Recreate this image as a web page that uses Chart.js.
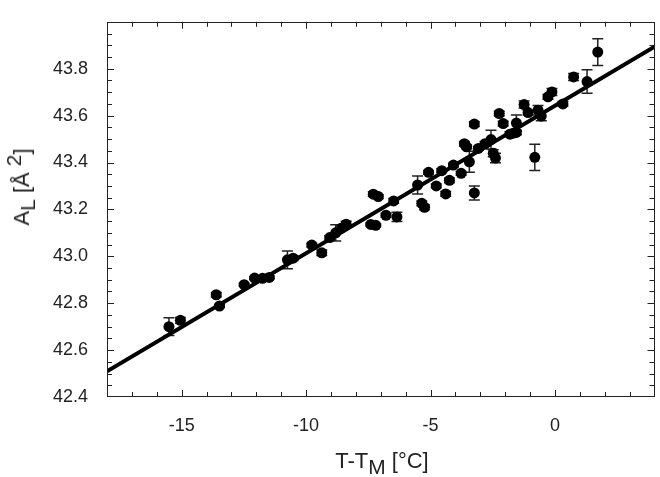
<html>
<head>
<script src="https://cdn.jsdelivr.net/npm/chart.js@4/dist/chart.umd.min.js"></script>
<style>
	body { margin: 0; background: #fff; }
	#container { position: relative; width: 660px; height: 477px; }
	.axis-title { position: absolute; font-family: "Liberation Sans", Arial, sans-serif; font-size: 22px; color: #222; white-space: nowrap; line-height: 1; }
	.axis-title .lo { position: relative; top: 6px; font-size: 95%; }
	.axis-title .hi { position: relative; top: -8px; font-size: 95%; }
	#xtitle { left: 382px; top: 461px; transform: translate(-50%, -50%); }
	#ytitle { left: 22px; top: 187px; transform: translate(-50%, -50%) rotate(-90deg); }
</style>
</head>
<body>
<div id="container">
	<canvas id="myChart"></canvas>
	<div class="axis-title" id="xtitle">T-T<span class="lo">M</span> [°C]</div>
	<div class="axis-title" id="ytitle">A<span class="lo">L</span> [Å <span class="hi">2</span>]</div>
</div>
<script>
	// measured points: T-TM (°C), area per lipid (Å²), error
	var tempDiff = [-15.51, -15.05, -13.61, -13.48, -12.49, -12.07, -11.75, -11.48, -10.75, -10.52,
		-9.77, -9.37, -9.05, -8.81, -8.57, -8.39, -7.40, -7.20, -7.30, -7.10,
		-6.79, -6.48, -6.35, -5.52, -5.35, -5.24, -5.08, -4.77, -4.55, -4.39,
		-4.24, -4.08, -3.77, -3.64, -3.55, -3.44, -3.24, -3.24, -3.08, -2.81,
		-2.57, -2.48, -2.39, -2.24, -2.08, -1.81, -1.68, -1.55, -1.55, -1.24,
		-1.08, -0.81, -0.68, -0.55, -0.28, -0.12, 0.32, 0.75, 1.29, 1.72];
	var areaValues = [42.700, 42.727, 42.836, 42.788, 42.879, 42.907, 42.906, 42.910, 42.985, 42.992,
		43.048, 43.015, 43.080, 43.100, 43.121, 43.137, 43.136, 43.132, 43.265, 43.255,
		43.175, 43.236, 43.168, 43.304, 43.226, 43.209, 43.358, 43.300, 43.365, 43.266,
		43.324, 43.389, 43.354, 43.480, 43.467, 43.403, 43.564, 43.270, 43.460, 43.480,
		43.498, 43.439, 43.419, 43.609, 43.566, 43.521, 43.525, 43.528, 43.568, 43.647,
		43.613, 43.422, 43.623, 43.598, 43.680, 43.701, 43.650, 43.765, 43.745, 43.871];
	var areaErrors = [0.038, 0.012, 0.010, 0.006, 0.006, 0.006, 0.005, 0.006, 0.038, 0.010,
		0.008, 0.012, 0.008, 0.035, 0.010, 0.012, 0.006, 0.006, 0.010, 0.008,
		0.008, 0.010, 0.020, 0.038, 0.010, 0.010, 0.008, 0.008, 0.008, 0.010,
		0.010, 0.008, 0.008, 0.010, 0.008, 0.045, 0.010, 0.030, 0.008, 0.010,
		0.040, 0.015, 0.020, 0.010, 0.010, 0.010, 0.010, 0.010, 0.035, 0.015,
		0.010, 0.056, 0.020, 0.020, 0.010, 0.015, 0.010, 0.015, 0.050, 0.057];

	// linear fit line end points
	var fitX = [-18, 4];
	var fitY = [42.51, 43.894];

	var xTickLabels = [-15, -10, -5, 0];
	var yTickLabels = [42.4, 42.6, 42.8, 43.0, 43.2, 43.4, 43.6, 43.8];

	var X_MIN = -18, X_MAX = 4, Y_MIN = 42.4, Y_MAX = 44.0;

	// error bars behind the markers
	var errorBars = {
		id: 'errorBars',
		beforeDatasetsDraw: function(chart) {
			var ctx = chart.ctx;
			var xs = chart.scales.x, ys = chart.scales.y;
			ctx.save();
			ctx.strokeStyle = '#222';
			ctx.lineWidth = 1.5;
			ctx.beginPath();
			for (var i = 0; i < tempDiff.length; i++) {
				var px = xs.getPixelForValue(tempDiff[i]);
				var top = ys.getPixelForValue(areaValues[i] + areaErrors[i]);
				var bot = ys.getPixelForValue(areaValues[i] - areaErrors[i]);
				ctx.moveTo(px, top); ctx.lineTo(px, bot);
				ctx.moveTo(px - 5.5, top); ctx.lineTo(px + 5.5, top);
				ctx.moveTo(px - 5.5, bot); ctx.lineTo(px + 5.5, bot);
			}
			ctx.stroke();
			ctx.restore();
		}
	};

	// box round the plot with inward ticks on all four sides
	var frameTicks = {
		id: 'frameTicks',
		afterDraw: function(chart) {
			var ctx = chart.ctx, a = chart.chartArea;
			var xs = chart.scales.x, ys = chart.scales.y;
			ctx.save();
			ctx.strokeStyle = '#222';
			ctx.lineWidth = 1;
			ctx.strokeRect(Math.round(a.left) + 0.5, Math.round(a.top) + 0.5,
				Math.round(a.right - a.left) - 1, Math.round(a.bottom - a.top) - 1);
			ctx.beginPath();
			for (var v = X_MIN + 1; v < X_MAX; v++) {
				var px = Math.round(xs.getPixelForValue(v)) + 0.5;
				var len = (v % 5 === 0) ? 7 : 5;
				ctx.moveTo(px, a.bottom); ctx.lineTo(px, a.bottom - len);
				ctx.moveTo(px, a.top); ctx.lineTo(px, a.top + len);
			}
			for (var k = 1; k < 32; k++) {
				var val = Y_MIN + k * 0.05;
				var py = Math.round(ys.getPixelForValue(val)) + 0.5;
				var ylen = (k % 4 === 0) ? 7 : 5;
				ctx.moveTo(a.left, py); ctx.lineTo(a.left + ylen, py);
				ctx.moveTo(a.right, py); ctx.lineTo(a.right - ylen, py);
			}
			ctx.stroke();
			ctx.restore();
		}
	};

	var tickFont = { family: '"Liberation Sans", Arial, sans-serif', size: 18 };

	var ctx = document.getElementById('myChart').getContext('2d');
	var myChart = new Chart(ctx, {
		type: 'scatter',
		data: {
			datasets: [{
				type: 'line',
				data: fitX.map(function(x, i) { return { x: x, y: fitY[i] }; }),
				borderColor: '#000',
				borderWidth: 4,
				pointRadius: 0,
				fill: false
			}, {
				data: tempDiff.map(function(x, i) { return { x: x, y: areaValues[i] }; }),
				backgroundColor: '#000',
				borderWidth: 0,
				pointRadius: 5.5
			}]
		},
		options: {
			responsive: true,
			maintainAspectRatio: false,
			animation: false,
			layout: { padding: { top: 4, right: 3, left: 0, bottom: 0 } },
			plugins: { legend: { display: false }, tooltip: { enabled: false } },
			scales: {
				x: {
					type: 'linear',
					min: X_MIN, max: X_MAX,
					grid: { display: false },
					border: { display: false },
					afterBuildTicks: function(scale) {
						scale.ticks = xTickLabels.map(function(v) { return { value: v }; });
					},
					afterFit: function(scale) { scale.height = 80; },
					ticks: { font: tickFont, color: '#222', padding: 10, maxRotation: 0 }
				},
				y: {
					type: 'linear',
					min: Y_MIN, max: Y_MAX,
					grid: { display: false },
					border: { display: false },
					afterBuildTicks: function(scale) {
						scale.ticks = yTickLabels.map(function(v) { return { value: v }; });
					},
					afterFit: function(scale) { scale.width = 107; },
					ticks: {
						font: tickFont, color: '#222', padding: 11,
						callback: function(v) { return Number(v).toFixed(1); }
					}
				}
			}
		},
		plugins: [errorBars, frameTicks]
	});
</script>
</body>
</html>
